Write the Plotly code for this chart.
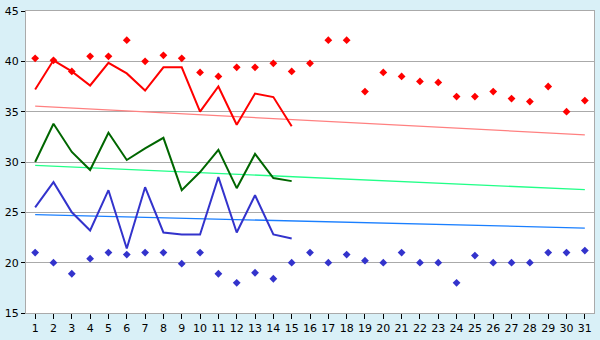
import plotly.graph_objects as go

days = list(range(1, 32))
days15 = list(range(1, 16))

red_line = [37.2, 40.1, 39.0, 37.6, 39.85, 38.8, 37.1, 39.4, 39.4, 35.0, 37.5, 33.7, 36.8, 36.45, 33.55]
green_line = [30.0, 33.8, 31.0, 29.2, 32.9, 30.2, 31.35, 32.4, 27.2, 29.0, 31.2, 27.4, 30.8, 28.4, 28.1]
blue_line = [25.5, 28.0, 25.0, 23.2, 27.2, 21.4, 27.5, 23.0, 22.8, 22.8, 28.5, 23.0, 26.7, 22.8, 22.4]

red_pts = [40.3, 40.1, 39.0, 40.5, 40.5, 42.1, 40.0, 40.6, 40.3, 38.9, 38.5, 39.4, 39.4, 39.8, 39.0,
           39.8, 42.1, 42.1, 37.0, 38.9, 38.5, 38.0, 37.9, 36.5, 36.5, 37.0, 36.3, 36.0, 37.5, 35.0, 36.1]
blue_pts = [21.0, 20.0, 18.9, 20.4, 21.0, 20.8, 21.0, 21.0, 19.9, 21.0, 18.9, 18.0, 19.0, 18.4, 20.0,
            21.0, 20.0, 20.8, 20.2, 20.0, 21.0, 20.0, 20.0, 18.0, 20.7, 20.0, 20.0, 20.0, 21.0, 21.0, 21.2]

trend_x = [1, 31]
red_trend = [35.55, 32.7]
green_trend = [29.67, 27.25]
blue_trend = [24.77, 23.44]

fig = go.Figure()
fig.add_trace(go.Scatter(x=trend_x, y=red_trend, mode="lines", line=dict(color="#ff8080", width=1.3)))
fig.add_trace(go.Scatter(x=trend_x, y=green_trend, mode="lines", line=dict(color="#22ff88", width=1.3)))
fig.add_trace(go.Scatter(x=trend_x, y=blue_trend, mode="lines", line=dict(color="#1a7fff", width=1.3)))
fig.add_trace(go.Scatter(x=days15, y=red_line, mode="lines", line=dict(color="#ff0000", width=2)))
fig.add_trace(go.Scatter(x=days15, y=green_line, mode="lines", line=dict(color="#006600", width=2)))
fig.add_trace(go.Scatter(x=days15, y=blue_line, mode="lines", line=dict(color="#3333cc", width=2)))
fig.add_trace(go.Scatter(x=days, y=red_pts, mode="markers",
                         marker=dict(symbol="diamond", size=6, color="#ff0000")))
fig.add_trace(go.Scatter(x=days, y=blue_pts, mode="markers",
                         marker=dict(symbol="diamond", size=6, color="#3333cc")))

fig.update_layout(
    width=600, height=340,
    margin=dict(l=20, r=5, t=5, b=20),
    paper_bgcolor="#d9f0f7",
    plot_bgcolor="#ffffff",
    showlegend=False,
    font=dict(family="DejaVu Sans", size=11, color="#000000"),
)
fig.update_xaxes(
    range=[0.5, 31.5], tickmode="array", tickvals=days, ticktext=[str(d) for d in days],
    showgrid=False, zeroline=False, ticks="outside", ticklen=5, tickcolor="#000000",
    showline=True, linecolor="#aaaaaa", linewidth=1, mirror=True,
    ticklabeloverflow="allow",
)
fig.update_yaxes(
    range=[15, 45], tickmode="array", tickvals=[15, 20, 25, 30, 35, 40, 45],
    showgrid=True, gridcolor="#aaaaaa", gridwidth=1, zeroline=False,
    ticks="outside", ticklen=4, tickcolor="#000000",
    showline=True, linecolor="#aaaaaa", linewidth=1, mirror=True,
    ticklabeloverflow="allow",
)

fig.write_html("out.html")
